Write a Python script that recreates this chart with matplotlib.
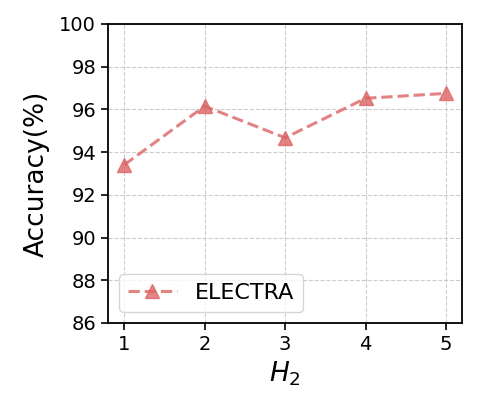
import matplotlib
matplotlib.use("Agg")
import matplotlib.pyplot as plt

h2 = [1, 2, 3, 4, 5]
electra = [93.4, 96.15, 94.67, 96.52, 96.75]

fig = plt.figure(figsize=(4.78, 4.13), dpi=100)
ax = fig.add_axes([0.226, 0.218, 0.741, 0.724])
ax.plot(h2, electra, '--', marker='^', color='#dc6464', alpha=0.8, lw=2.2,
        markersize=10, label='ELECTRA')
ax.set_ylim(86, 100)
ax.set_xlim(0.8, 5.2)
ax.set_xticks(h2)
ax.set_yticks(range(86, 101, 2))
ax.tick_params(labelsize=14, width=1.2, length=5)
ax.grid(True, ls='--', color='#cccccc', lw=0.8)
ax.set_axisbelow(True)
ax.set_xlabel('$H_2$', fontsize=19, labelpad=4)
ax.set_ylabel('Accuracy(%)', fontsize=19, labelpad=7)
for s in ax.spines.values():
    s.set_linewidth(1.3)
ax.legend(loc='lower left', fontsize=16, handlelength=2.2)
fig.savefig('out.png', dpi=100)
